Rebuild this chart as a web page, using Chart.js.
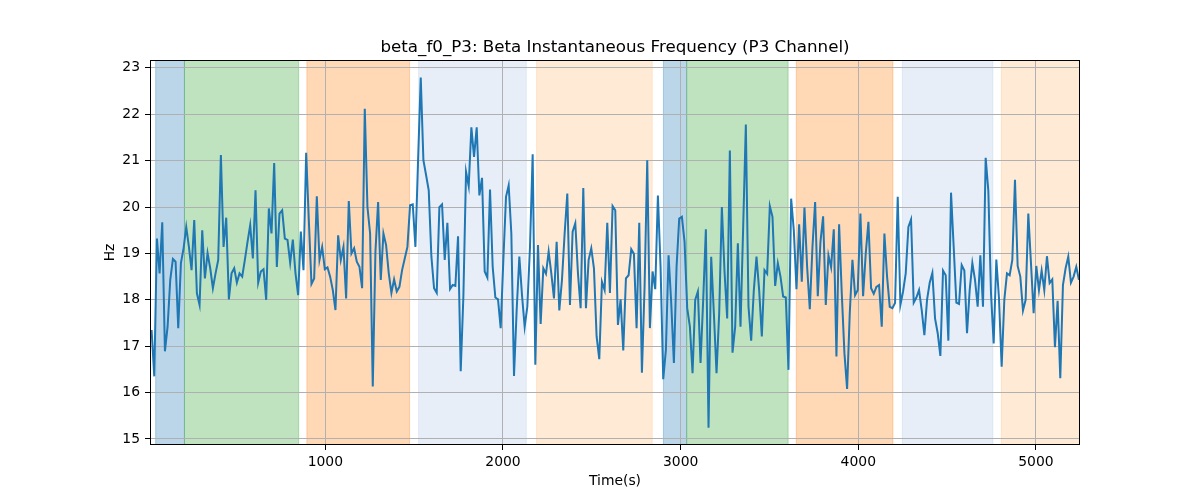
<!DOCTYPE html>
<html>
<head>
<meta charset="utf-8">
<title>beta_f0_P3</title>
<script src="https://cdn.jsdelivr.net/npm/chart.js@4.4.1/dist/chart.umd.min.js"></script>
<style>
  html, body { margin: 0; padding: 0; background: #fff; }
  canvas { display: block; }
</style>
</head>
<body>
<canvas id="chart" width="1200" height="500"></canvas>
<script>
const chartTitle = 'beta_f0_P3: Beta Instantaneous Frequency (P3 Channel)';
const xLabel = 'Time(s)';
const yLabel = 'Hz';

// beta instantaneous frequency, one sample every 15 s
const hzValues = [
  17.35, 16.35, 19.32, 18.57, 19.67, 16.89, 17.42, 18.43, 18.88, 18.82, 17.39, 18.79, 19.11, 19.57, 19.14, 18.64, 19.72, 18.14, 17.89, 19.50,
  18.46, 19.01, 18.68, 18.25, 18.57, 18.86, 21.12, 19.14, 19.77, 18.01, 18.57, 18.68, 18.37, 18.57, 18.50, 18.86, 19.25, 19.61, 18.89,
  20.36, 18.37, 18.61, 18.66, 18.00, 19.97, 19.43, 20.95, 18.71, 19.86, 19.93, 19.32, 19.29, 18.80, 19.30, 18.57, 18.10, 19.47, 18.64, 21.17,
  19.72, 18.34, 18.46, 20.23, 18.86, 19.14, 18.66, 18.70, 18.50, 18.21, 17.78, 19.39, 18.86, 19.14, 18.03, 20.13, 19.00, 19.11, 18.82,
  18.71, 18.25, 22.12, 20.00, 19.43, 16.13, 19.04, 20.11, 18.43, 19.43, 19.18, 18.57, 18.15, 18.44, 18.18, 18.28, 18.64, 18.89, 19.14, 20.04,
  20.06, 19.14, 21.01, 22.79, 21.01, 20.69, 20.36, 18.93, 18.25, 18.15, 20.00, 20.06, 18.86, 19.66, 18.23, 18.32, 18.30, 19.37, 16.46, 18.07,
  20.76, 20.45, 21.72, 21.08, 21.72, 20.25, 20.63, 18.61, 18.48, 20.38, 18.71, 18.05, 18.01, 17.39, 18.86, 20.22, 20.47, 19.43, 16.36, 17.78,
  18.93, 18.10, 17.42, 17.85, 19.14, 21.14, 16.60, 19.18, 17.48, 18.68, 18.56, 19.04, 18.57, 18.03, 19.25, 17.77, 18.43, 19.43, 20.29,
  17.89, 19.47, 19.65, 18.57, 17.82, 20.41, 17.82, 18.86, 19.11, 18.68, 17.21, 16.72, 18.39, 18.21, 19.66, 18.15, 20.02, 19.93, 17.46, 18.01,
  16.91, 18.46, 18.53, 19.09, 18.99, 17.39, 19.66, 16.43, 18.28, 21.01, 17.39, 18.61, 18.23, 20.25, 18.71, 16.29, 16.92, 18.96, 17.93, 16.64,
  18.71, 19.75, 19.79, 19.25, 17.82, 17.42, 16.42, 18.00, 18.18, 16.64, 18.00, 19.52, 15.24, 18.93, 17.71, 16.42, 17.71, 20.00, 18.61, 17.60,
  21.22, 16.86, 17.42, 19.22, 17.42, 19.57, 21.78, 17.85, 17.12, 18.21, 18.93, 18.21, 17.21, 18.64, 18.56, 20.02, 19.79, 18.30, 18.79,
  18.50, 18.07, 18.05, 16.49, 20.18, 19.50, 18.23, 19.63, 18.39, 19.99, 18.71, 17.80, 19.14, 20.11, 18.08, 19.25, 19.80, 17.89, 18.96, 18.70,
  19.52, 16.78, 19.63, 18.14, 16.85, 16.08, 17.71, 18.86, 18.10, 18.21, 19.86, 18.08, 19.00, 19.68, 18.25, 18.13, 18.28, 18.32, 17.42,
  19.43, 18.50, 17.85, 17.82, 17.93, 20.22, 17.89, 18.18, 18.57, 19.57, 19.73, 17.94, 18.05, 18.21, 17.78, 17.24, 18.00, 18.37, 18.58, 17.60,
  17.28, 16.79, 18.63, 18.53, 17.12, 20.31, 19.14, 17.94, 17.91, 18.75, 18.63, 17.28, 18.21, 18.79, 18.43, 17.85, 18.96, 17.85, 21.06, 20.35,
  18.14, 17.06, 18.87, 18.03, 16.56, 18.00, 18.57, 18.53, 18.86, 20.59, 18.73, 18.50, 17.77, 18.00, 19.86, 18.79, 17.71, 18.73, 18.21, 18.63,
  18.21, 18.94, 18.36, 18.44, 16.98, 17.98, 16.31, 18.32, 18.68, 18.93, 18.37, 18.50, 18.71, 18.43
];
const firstSample = 22;
const sampleStep = 15;

const xTicks = [1000, 2000, 3000, 4000, 5000];
const yTicks = [15, 16, 17, 18, 19, 20, 21, 22, 23];
const xRange = [13, 5248];
const yRange = [14.87, 23.17];

// shaded stages (seconds) and which colour group each belongs to
const spanStart = [45, 207, 896, 1525, 2189, 2903, 3034, 3651, 4248, 4805];
const spanEnd = [207, 850, 1474, 2131, 2840, 3034, 3605, 4195, 4758, 5250];
const spanGroup = [0, 1, 2, 3, 4, 0, 1, 2, 3, 4];

const spanColors = [
  'rgba(31,119,180,0.3)',
  'rgba(44,160,44,0.3)',
  'rgba(255,127,14,0.3)',
  'rgba(174,199,232,0.3)',
  'rgba(255,187,120,0.3)'
];
const fontFamily = '"DejaVu Sans", sans-serif';

const points = hzValues.map((v, k) => ({ x: firstSample + sampleStep * k, y: v }));

const spansPlugin = {
  id: 'spans',
  beforeDraw(chart) {
    const { ctx, chartArea: a, scales } = chart;
    ctx.save();
    ctx.beginPath();
    ctx.rect(a.left, a.top, a.width, a.height);
    ctx.clip();
    spanStart.forEach((s, i) => {
      const x0 = scales.x.getPixelForValue(s);
      const x1 = scales.x.getPixelForValue(spanEnd[i]);
      ctx.fillStyle = spanColors[spanGroup[i]];
      ctx.fillRect(x0, a.top, x1 - x0, a.height);
      ctx.strokeStyle = spanColors[spanGroup[i]];
      ctx.lineWidth = 1;
      ctx.beginPath();
      ctx.moveTo(x0, a.top); ctx.lineTo(x0, a.bottom);
      ctx.moveTo(x1, a.top); ctx.lineTo(x1, a.bottom);
      ctx.stroke();
    });
    ctx.restore();
  }
};

const framePlugin = {
  id: 'frame',
  afterDraw(chart) {
    const { ctx, chartArea: a } = chart;
    const cx = (a.left + a.right) / 2;
    ctx.save();
    ctx.strokeStyle = '#000';
    ctx.lineWidth = 1;
    ctx.strokeRect(a.left + 0.5, a.top + 0.5, a.width - 1, a.height - 1);

    ctx.fillStyle = '#000';
    ctx.textAlign = 'center';
    ctx.font = '16.7px ' + fontFamily;
    ctx.textBaseline = 'alphabetic';
    ctx.fillText(chartTitle, cx, a.top - 8);

    ctx.font = '13.9px ' + fontFamily;
    ctx.textBaseline = 'middle';
    ctx.fillText(xLabel, cx, a.bottom + 36);
    ctx.translate(a.left - 40, (a.top + a.bottom) / 2);
    ctx.rotate(-Math.PI / 2);
    ctx.fillText(yLabel, 0, 0);
    ctx.restore();
  }
};

const tickFont = { family: fontFamily, size: 13.9 };

new Chart(document.getElementById('chart'), {
  type: 'line',
  data: {
    datasets: [{
      data: points,
      borderColor: '#1f77b4',
      borderWidth: 2,
      pointRadius: 0,
      tension: 0,
      fill: false
    }]
  },
  options: {
    responsive: false,
    animation: false,
    devicePixelRatio: 1,
    layout: { padding: { top: 60, right: 120, left: 0, bottom: 0 } },
    plugins: { legend: { display: false }, tooltip: { enabled: false }, title: { display: false } },
    scales: {
      x: {
        type: 'linear',
        min: xRange[0],
        max: xRange[1],
        afterBuildTicks: s => { s.ticks = xTicks.map(v => ({ value: v })); },
        afterFit: s => { s.height = 55; },
        grid: { color: '#b0b0b0', lineWidth: 1, tickLength: 5, tickColor: '#000', tickWidth: 1 },
        border: { display: false },
        ticks: { color: '#000', font: tickFont, padding: 4, maxRotation: 0, autoSkip: false, callback: v => String(v) }
      },
      y: {
        type: 'linear',
        min: yRange[0],
        max: yRange[1],
        afterBuildTicks: s => { s.ticks = yTicks.map(v => ({ value: v })); },
        afterFit: s => { s.width = 150; },
        grid: { color: '#b0b0b0', lineWidth: 1, tickLength: 5, tickColor: '#000', tickWidth: 1 },
        border: { display: false },
        ticks: { color: '#000', font: tickFont, padding: 5, autoSkip: false, callback: v => String(v) }
      }
    }
  },
  plugins: [spansPlugin, framePlugin]
});
</script>
</body>
</html>
